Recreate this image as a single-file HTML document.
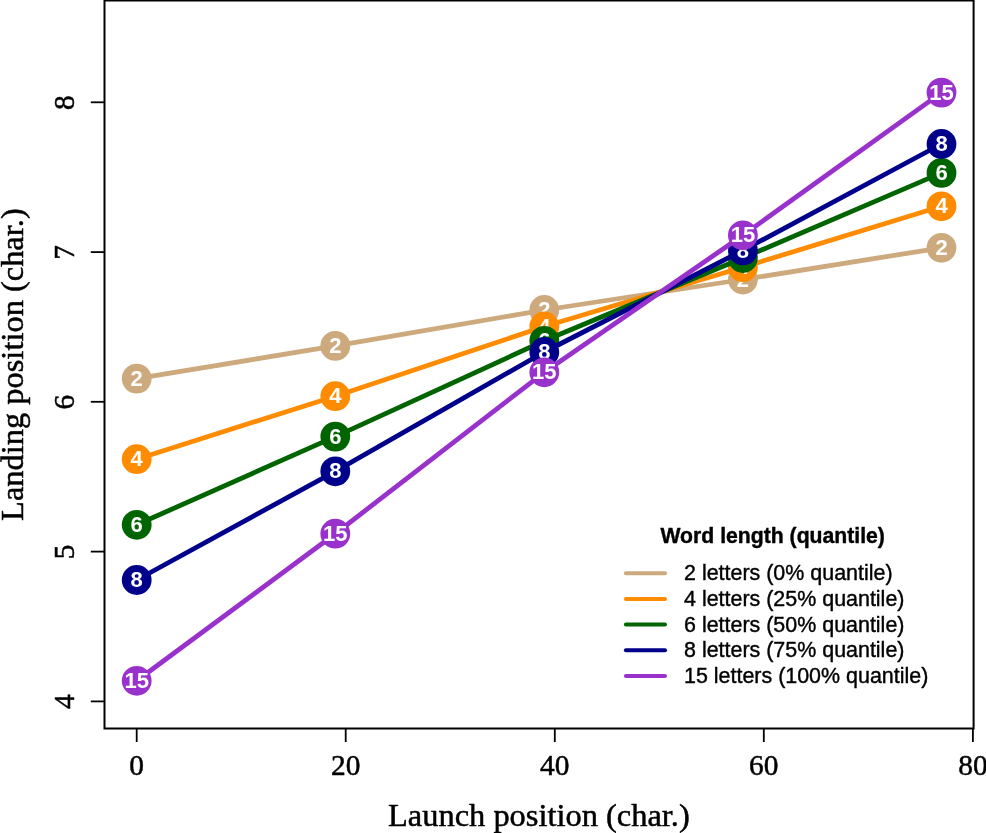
<!DOCTYPE html>
<html><head><meta charset="utf-8"><title>Landing position by launch position</title>
<style>
html,body{margin:0;padding:0;background:#fff;}
body{width:986px;height:833px;overflow:hidden;}
svg{display:block;will-change:transform;}
.ser{font-family:"Liberation Serif",serif;fill:#000;stroke:#000;stroke-width:0.5px;stroke-linejoin:round;}
.sans{font-family:"Liberation Sans",sans-serif;fill:#000;stroke:#000;stroke-width:0.4px;stroke-linejoin:round;}
.num{font-family:"Liberation Sans",sans-serif;font-weight:bold;font-size:22px;fill:#fff;text-anchor:middle;}
</style></head><body>
<svg width="986" height="833" viewBox="0 0 986 833">

<polyline points="136.7,378.6 335.3,345.9 544.3,310.0 742.9,279.5 941.5,247.8" fill="none" stroke="#CDAA7D" stroke-width="4.8" stroke-linejoin="round" stroke-linecap="round"/>
<circle cx="136.7" cy="378.6" r="14.9" fill="#CDAA7D"/>
<circle cx="335.3" cy="345.9" r="14.9" fill="#CDAA7D"/>
<circle cx="544.3" cy="310.0" r="14.9" fill="#CDAA7D"/>
<circle cx="742.9" cy="279.5" r="14.9" fill="#CDAA7D"/>
<circle cx="941.5" cy="247.8" r="14.9" fill="#CDAA7D"/>
<text class="num" x="136.7" y="385.7">2</text>
<text class="num" x="335.3" y="353.0">2</text>
<text class="num" x="544.3" y="317.1">2</text>
<text class="num" x="742.9" y="286.6">2</text>
<text class="num" x="941.5" y="254.9">2</text>
<polyline points="136.7,459.2 335.3,396.2 544.3,326.5 742.9,267.2 941.5,206.3" fill="none" stroke="#FF8C00" stroke-width="4.8" stroke-linejoin="round" stroke-linecap="round"/>
<circle cx="136.7" cy="459.2" r="14.9" fill="#FF8C00"/>
<circle cx="335.3" cy="396.2" r="14.9" fill="#FF8C00"/>
<circle cx="544.3" cy="326.5" r="14.9" fill="#FF8C00"/>
<circle cx="742.9" cy="267.2" r="14.9" fill="#FF8C00"/>
<circle cx="941.5" cy="206.3" r="14.9" fill="#FF8C00"/>
<text class="num" x="136.7" y="466.3">4</text>
<text class="num" x="335.3" y="403.3">4</text>
<text class="num" x="544.3" y="333.6">4</text>
<text class="num" x="742.9" y="274.3">4</text>
<text class="num" x="941.5" y="213.4">4</text>
<polyline points="136.7,524.8 335.3,436.6 544.3,340.8 742.9,258.0 941.5,172.9" fill="none" stroke="#006400" stroke-width="4.8" stroke-linejoin="round" stroke-linecap="round"/>
<circle cx="136.7" cy="524.8" r="14.9" fill="#006400"/>
<circle cx="335.3" cy="436.6" r="14.9" fill="#006400"/>
<circle cx="544.3" cy="340.8" r="14.9" fill="#006400"/>
<circle cx="742.9" cy="258.0" r="14.9" fill="#006400"/>
<circle cx="941.5" cy="172.9" r="14.9" fill="#006400"/>
<text class="num" x="136.7" y="531.9">6</text>
<text class="num" x="335.3" y="443.7">6</text>
<text class="num" x="544.3" y="347.9">6</text>
<text class="num" x="742.9" y="265.1">6</text>
<text class="num" x="941.5" y="180.0">6</text>
<polyline points="136.7,580.0 335.3,471.3 544.3,352.0 742.9,250.4 941.5,144.0" fill="none" stroke="#00008B" stroke-width="4.8" stroke-linejoin="round" stroke-linecap="round"/>
<circle cx="136.7" cy="580.0" r="14.9" fill="#00008B"/>
<circle cx="335.3" cy="471.3" r="14.9" fill="#00008B"/>
<circle cx="544.3" cy="352.0" r="14.9" fill="#00008B"/>
<circle cx="742.9" cy="250.4" r="14.9" fill="#00008B"/>
<circle cx="941.5" cy="144.0" r="14.9" fill="#00008B"/>
<text class="num" x="136.7" y="587.1">8</text>
<text class="num" x="335.3" y="478.4">8</text>
<text class="num" x="544.3" y="359.1">8</text>
<text class="num" x="742.9" y="257.5">8</text>
<text class="num" x="941.5" y="151.1">8</text>
<polyline points="136.7,680.8 335.3,533.7 544.3,372.3 742.9,235.3 941.5,92.6" fill="none" stroke="#9932CC" stroke-width="4.8" stroke-linejoin="round" stroke-linecap="round"/>
<circle cx="136.7" cy="680.8" r="14.9" fill="#9932CC"/>
<circle cx="335.3" cy="533.7" r="14.9" fill="#9932CC"/>
<circle cx="544.3" cy="372.3" r="14.9" fill="#9932CC"/>
<circle cx="742.9" cy="235.3" r="14.9" fill="#9932CC"/>
<circle cx="941.5" cy="92.6" r="14.9" fill="#9932CC"/>
<text class="num" x="136.7" y="687.9">15</text>
<text class="num" x="335.3" y="540.8">15</text>
<text class="num" x="544.3" y="379.4">15</text>
<text class="num" x="742.9" y="242.4">15</text>
<text class="num" x="941.5" y="99.7">15</text>
<rect x="104.5" y="0.5" width="869.1" height="728.0" fill="none" stroke="#000" stroke-width="2"/>
<line x1="136.7" y1="728.5" x2="136.7" y2="742.0" stroke="#000" stroke-width="1.8"/>
<text class="ser" x="136.7" y="775" font-size="29.4" text-anchor="middle">0</text>
<line x1="345.7" y1="728.5" x2="345.7" y2="742.0" stroke="#000" stroke-width="1.8"/>
<text class="ser" x="345.7" y="775" font-size="29.4" text-anchor="middle">20</text>
<line x1="554.8" y1="728.5" x2="554.8" y2="742.0" stroke="#000" stroke-width="1.8"/>
<text class="ser" x="554.8" y="775" font-size="29.4" text-anchor="middle">40</text>
<line x1="763.8" y1="728.5" x2="763.8" y2="742.0" stroke="#000" stroke-width="1.8"/>
<text class="ser" x="763.8" y="775" font-size="29.4" text-anchor="middle">60</text>
<line x1="972.9" y1="728.5" x2="972.9" y2="742.0" stroke="#000" stroke-width="1.8"/>
<text class="ser" x="972.9" y="775" font-size="29.4" text-anchor="middle">80</text>
<line x1="104.5" y1="701.4" x2="90.8" y2="701.4" stroke="#000" stroke-width="1.8"/>
<text class="ser" transform="translate(73.7,701.7) rotate(-90)" font-size="29.4" text-anchor="middle">4</text>
<line x1="104.5" y1="551.6" x2="90.8" y2="551.6" stroke="#000" stroke-width="1.8"/>
<text class="ser" transform="translate(73.7,551.9) rotate(-90)" font-size="29.4" text-anchor="middle">5</text>
<line x1="104.5" y1="401.8" x2="90.8" y2="401.8" stroke="#000" stroke-width="1.8"/>
<text class="ser" transform="translate(73.7,402.1) rotate(-90)" font-size="29.4" text-anchor="middle">6</text>
<line x1="104.5" y1="252.1" x2="90.8" y2="252.1" stroke="#000" stroke-width="1.8"/>
<text class="ser" transform="translate(73.7,252.4) rotate(-90)" font-size="29.4" text-anchor="middle">7</text>
<line x1="104.5" y1="102.3" x2="90.8" y2="102.3" stroke="#000" stroke-width="1.8"/>
<text class="ser" transform="translate(73.7,102.6) rotate(-90)" font-size="29.4" text-anchor="middle">8</text>
<text class="ser" x="538.9" y="826.0" font-size="32.45" text-anchor="middle">Launch position (char.)</text>
<text class="ser" transform="translate(22.7,364.6) rotate(-90)" font-size="32.45" text-anchor="middle">Landing position (char.)</text>
<text class="sans" x="660.5" y="543" font-size="21.2" font-weight="bold">Word length (quantile)</text>
<line x1="625.9" y1="573.3" x2="665.0" y2="573.3" stroke="#CDAA7D" stroke-width="4" stroke-linecap="round"/>
<text class="sans" x="684" y="580.4" font-size="21.45">2 letters (0% quantile)</text>
<line x1="625.9" y1="598.9" x2="665.0" y2="598.9" stroke="#FF8C00" stroke-width="4" stroke-linecap="round"/>
<text class="sans" x="684" y="606.0" font-size="21.45">4 letters (25% quantile)</text>
<line x1="625.9" y1="624.6" x2="665.0" y2="624.6" stroke="#006400" stroke-width="4" stroke-linecap="round"/>
<text class="sans" x="684" y="631.7" font-size="21.45">6 letters (50% quantile)</text>
<line x1="625.9" y1="650.2" x2="665.0" y2="650.2" stroke="#00008B" stroke-width="4" stroke-linecap="round"/>
<text class="sans" x="684" y="657.3" font-size="21.45">8 letters (75% quantile)</text>
<line x1="625.9" y1="676.0" x2="665.0" y2="676.0" stroke="#9932CC" stroke-width="4" stroke-linecap="round"/>
<text class="sans" x="684" y="683.1" font-size="21.45">15 letters (100% quantile)</text>
</svg></body></html>
